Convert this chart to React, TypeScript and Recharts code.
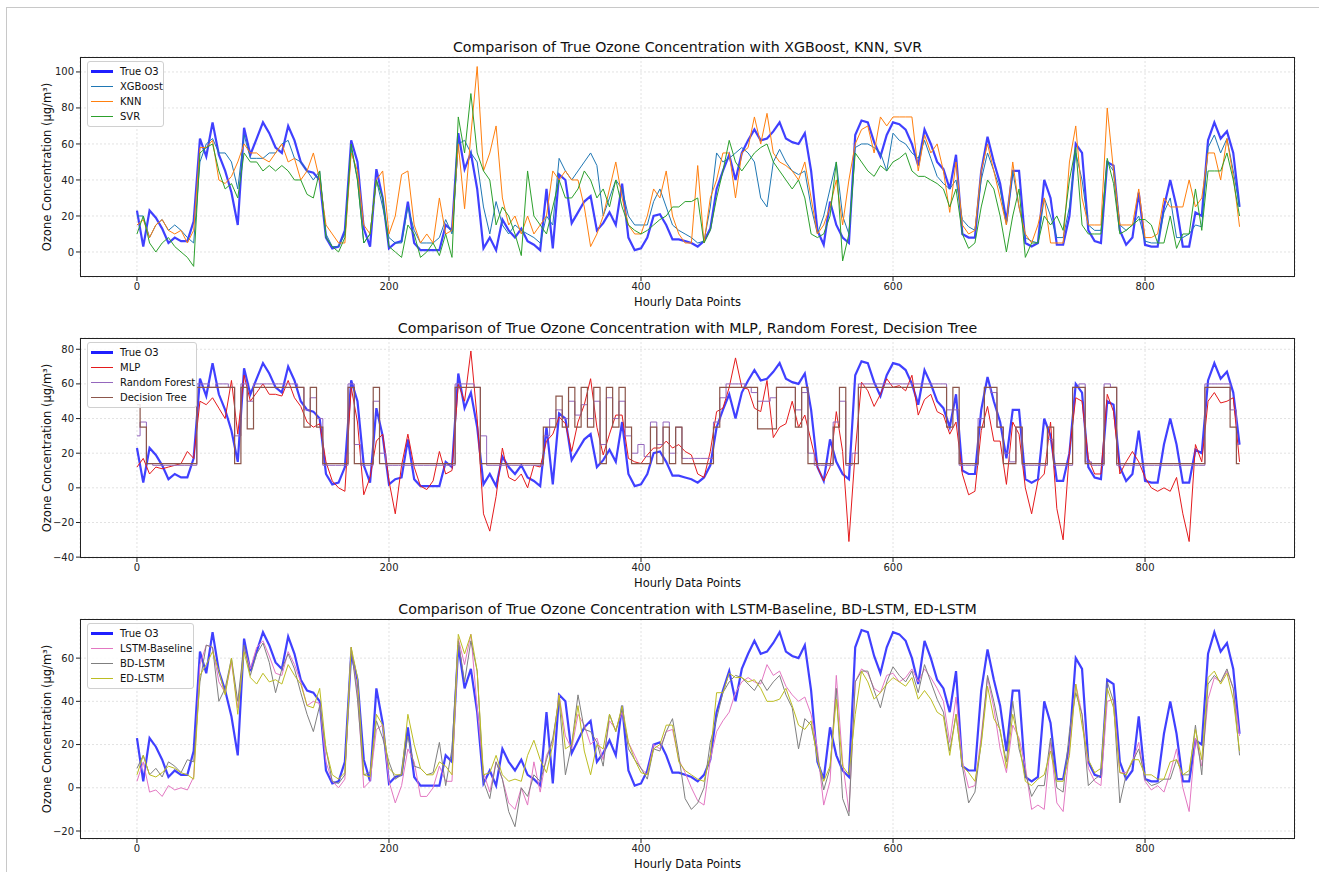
import React from 'react';
import { LineChart, Line, XAxis, YAxis, CartesianGrid } from 'recharts';

const FONT = '"DejaVu Sans", Verdana, sans-serif';

// hourly index, sampled every 5 hours
const hours = Array.from({ length: 176 }, (_, i) => i * 5);

const trueO3 = [
  23, 3, 23, 19, 13, 5, 8, 6, 6, 17,
  63, 53, 72, 54, 45, 33, 15, 69, 54, 63,
  72, 66, 58, 55, 70, 62, 50, 45, 44, 40,
  8, 2, 3, 12, 62, 50, 13, 3, 46, 30,
  2, 5, 6, 28, 5, 1, 1, 1, 1, 15,
  12, 66, 46, 55, 35, 2, 8, 1, 18, 12,
  8, 13, 6, 4, 1, 35, 2, 43, 40, 16,
  22, 28, 31, 12, 16, 22, 15, 38, 8, 1,
  2, 8, 20, 21, 15, 7, 7, 6, 5, 3,
  6, 13, 35, 45, 54, 40, 55, 62, 68, 62,
  63, 67, 72, 63, 61, 60, 66, 45, 12, 4,
  28, 15, 8, 5, 65, 73, 72, 61, 53, 65,
  72, 71, 68, 60, 48, 68, 60, 50, 46, 35,
  54, 10, 8, 8, 45, 64, 50, 38, 17, 45,
  45, 5, 3, 5, 40, 30, 4, 4, 20, 60,
  55, 12, 6, 5, 50, 48, 12, 4, 8, 33,
  4, 3, 3, 25, 40, 25, 3, 3, 22, 20,
  62, 72, 63, 67, 55, 25,
];

const xgboost = [
  20, 20, 8, 15, 18, 12, 15, 12, 8, 5,
  50, 60, 63, 55, 55, 50, 35, 65, 52, 52,
  52, 55, 55, 60, 62, 52, 50, 45, 40, 45,
  10, 3, 3, 10, 58, 40, 5, 10, 40, 25,
  8, 5, 5, 25, 12, 5, 5, 5, 8, 18,
  10, 60, 62, 55, 50, 25, 10, 28, 15, 10,
  15, 12, 10, 8, 5, 20, 15, 52, 45, 40,
  45, 50, 55, 48, 20, 30, 40, 35, 20, 15,
  15, 15, 28, 35, 25, 15, 12, 10, 8, 5,
  6, 25, 55, 50, 52, 55, 58, 55, 50, 30,
  25, 50, 57, 50, 45, 43, 45, 25, 10, 20,
  35, 50, 20, 10, 58, 60, 60, 58, 55, 45,
  66, 62, 60, 55, 52, 62, 52, 42, 38, 35,
  40, 18, 14, 12, 40, 55, 45, 35, 15, 45,
  25, 8, 6, 5, 30, 20, 8, 8, 25, 55,
  40, 15, 12, 12, 50, 45, 15, 12, 15, 20,
  6, 5, 5, 22, 30, 8, 8, 10, 15, 14,
  58, 65, 55, 63, 45, 25,
];

const knn = [
  15, 18, 8, 15, 18, 12, 10, 12, 5, 12,
  58, 58, 62, 40, 38, 42, 50, 60, 55, 55,
  52, 50, 55, 60, 50, 52, 40, 45, 55, 40,
  15, 10, 5, 5, 55, 45, 15, 10, 40, 45,
  10, 20, 43, 45, 15, 5, 10, 5, 30, 10,
  12, 60, 24, 65, 103, 45, 55, 70, 30, 15,
  20, 10, 20, 10, 15, 20, 45, 40, 45, 40,
  40, 25, 3, 10, 20, 35, 50, 30, 15, 10,
  10, 20, 35, 30, 45, 20, 10, 5, 5, 48,
  5, 30, 40, 55, 55, 30, 55, 58, 75, 60,
  77, 55, 50, 48, 45, 40, 50, 30, 10, 15,
  25, 40, 15, 40, 60, 68, 70, 55, 75, 70,
  75, 75, 75, 75, 45, 65, 55, 60, 45, 22,
  50, 15, 10, 12, 45, 60, 45, 30, 15, 50,
  25, 10, 5, 15, 30, 5, 5, 5, 50, 70,
  30, 15, 15, 15, 80, 45, 15, 15, 15, 35,
  8, 8, 10, 30, 25, 25, 25, 40, 25, 30,
  55, 55, 40, 63, 42, 14,
];

const svr = [
  10, 20, 5, 0, 5, 8, 3, 0, -3, -8,
  55, 58, 60, 45, 35, 38, 30, 55, 50, 50,
  45, 48, 45, 48, 45, 40, 40, 32, 30, 45,
  8, 3, 0, 8, 60, 40, 5, 10, 40, 30,
  3, 0, -3, 15, 10, -3, 0, 5, -2, 10,
  -3, 75, 55, 88, 55, 45, 40, 15, 25, 20,
  10, -2, 45, 20, 15, 10, 25, 40, 30, 30,
  35, 45, 40, 30, 35, 25, 40, 25, 15, 12,
  10, 12, 15, 18, 20, 25, 25, 28, 28, 30,
  5, 12, 30, 45, 62, 50, 45, 50, 55, 58,
  60, 50, 45, 40, 35, 40, 30, 10, 8, 10,
  20, 50, -5, 10, 55, 50, 45, 42, 48, 45,
  50, 52, 55, 45, 42, 42, 40, 38, 35, 25,
  35, 10, 2, 5, 25, 40, 35, 20, 0, 20,
  35, -3, 5, 5, 20, 15, 20, 12, 40, 58,
  15, 10, 10, 10, 52, 38, 10, 12, 15, 18,
  18, 15, 5, 5, 20, 2, 10, 10, 35, 12,
  45, 45, 45, 55, 40, 20,
];

const mlp = [
  12, 17, 8, 12, 11, 12, 13, 14, 21, 17,
  50, 48, 52, 46, 40, 62, 31, 65, 50, 55,
  60, 54, 54, 53, 62, 52, 47, 38, 35, 37,
  15, 4, 0, -2, 58, 38, -4, 6, 27, 31,
  4, -15, 13, 31, 12, 1, -1, 4, 21, 8,
  10, 60, 50, 79, 40, -15, -25, -5, 23, 6,
  4, 8, 0, 13, 12, 27, 31, 41, 37, 21,
  38, 48, 63, 35, 19, 31, 42, 42, 17, 15,
  14, 19, 23, 23, 27, 23, 25, 21, 19, 8,
  6, 21, 44, 46, 58, 75, 58, 57, 46, 44,
  62, 29, 35, 37, 50, 35, 42, 27, 12, 4,
  12, 44, 21, -31, 21, 61, 56, 47, 54, 63,
  58, 59, 56, 65, 42, 51, 54, 44, 42, 31,
  38, 8, -4, -2, 33, 47, 27, 27, 2, 38,
  31, 0, -15, 4, 8, 38, -12, -30, 21, 52,
  50, 17, 8, 8, 54, 44, 8, 15, 21, 15,
  6, 0, -2, 0, -2, 6, -15, -31, 25, 15,
  50, 55, 49, 50, 52, 15,
];

const randomForest = [
  30, 38, 14, 13, 13, 13, 13, 13, 13, 13,
  60, 60, 58, 60, 60, 58, 30, 60, 50, 60,
  60, 60, 60, 60, 60, 60, 58, 45, 52, 40,
  13, 13, 13, 13, 60, 25, 13, 13, 50, 20,
  13, 13, 13, 13, 13, 13, 13, 13, 13, 13,
  13, 60, 60, 60, 58, 30, 13, 13, 13, 13,
  13, 13, 13, 13, 13, 30, 40, 45, 40, 50,
  42, 48, 40, 50, 25, 52, 40, 50, 30, 20,
  25, 18, 38, 25, 38, 20, 35, 17, 17, 17,
  17, 17, 38, 52, 60, 60, 60, 58, 55, 50,
  50, 52, 58, 58, 58, 45, 55, 20, 13, 13,
  13, 38, 50, 13, 20, 60, 60, 60, 60, 60,
  60, 60, 60, 60, 60, 60, 60, 60, 60, 45,
  45, 13, 13, 13, 40, 58, 55, 35, 20, 15,
  35, 13, 13, 13, 13, 28, 13, 13, 13, 58,
  60, 15, 13, 13, 60, 58, 13, 13, 13, 13,
  13, 13, 13, 13, 13, 13, 13, 13, 13, 13,
  60, 60, 60, 60, 45, 25,
];

const decisionTree = [
  48, 35, 14, 14, 14, 14, 14, 14, 14, 14,
  58, 58, 58, 58, 58, 58, 14, 58, 34, 58,
  58, 58, 58, 58, 58, 58, 58, 35, 58, 35,
  14, 14, 14, 14, 58, 14, 14, 14, 58, 14,
  14, 14, 14, 14, 14, 14, 14, 14, 14, 14,
  14, 58, 58, 58, 58, 14, 14, 14, 14, 14,
  14, 14, 14, 14, 14, 35, 35, 53, 35, 58,
  35, 58, 35, 58, 14, 58, 35, 58, 35, 14,
  14, 14, 35, 14, 35, 14, 35, 14, 14, 14,
  14, 14, 35, 58, 58, 58, 58, 58, 58, 34,
  34, 34, 58, 58, 58, 35, 58, 14, 14, 14,
  14, 35, 58, 14, 14, 58, 58, 58, 58, 58,
  58, 58, 58, 58, 58, 58, 58, 58, 58, 35,
  58, 14, 14, 14, 35, 58, 58, 35, 14, 14,
  35, 14, 14, 14, 14, 35, 14, 14, 14, 58,
  58, 14, 14, 14, 58, 58, 14, 14, 14, 14,
  14, 14, 14, 14, 14, 14, 14, 14, 14, 14,
  58, 58, 58, 58, 35, 14,
];

const lstmBaseline = [
  3, 12, -2, -1, -4, 1, -1, 0, -1, 5,
  57, 66, 65, 49, 44, 58, 37, 65, 55, 65,
  68, 61, 53, 52, 63, 57, 49, 38, 40, 39,
  12, 3, 0, 4, 65, 44, 0, 3, 27, 29,
  3, -7, 1, 18, 12, -4, -4, 0, 10, 3,
  3, 69, 57, 71, 37, 7, -2, 12, 4, -7,
  -10, 0, -8, 12, -2, 15, 21, 43, 24, 18,
  34, 29, 20, 23, 13, 31, 27, 35, 21, 15,
  9, 6, 20, 18, 26, 27, 13, 7, 0, -6,
  -8, 13, 26, 31, 35, 44, 49, 51, 49, 48,
  57, 52, 54, 47, 43, 40, 42, 34, 18, -8,
  3, 52, 12, -11, 49, 55, 53, 46, 44, 52,
  53, 49, 51, 55, 49, 55, 51, 46, 40, 21,
  42, 12, 0, 1, 24, 51, 37, 18, 7, 29,
  23, 10, -10, -8, -10, 21, -7, -11, 18, 48,
  34, 9, 3, 1, 40, 41, 7, 7, 12, 21,
  3, -1, 1, -2, 7, 18, 0, -11, 23, 10,
  41, 51, 49, 54, 46, 24,
];

const bdLstm = [
  9, 15, 6, 9, 5, 12, 10, 7, 13, 12,
  49, 66, 65, 40, 46, 60, 40, 66, 52, 62,
  67, 58, 44, 55, 62, 55, 44, 34, 26, 38,
  18, 3, 2, 6, 65, 41, 6, 7, 31, 23,
  12, 4, 6, 24, 10, 9, 6, 7, 21, 1,
  18, 68, 49, 68, 54, 3, -5, 12, 4, -11,
  -18, 0, -4, 6, 3, 13, 23, 41, 6, 20,
  43, 27, 26, 21, 10, 34, 26, 37, 18, 13,
  9, 4, 18, 17, 26, 32, 15, -5, -10, -7,
  0, 21, 32, 44, 49, 52, 51, 48, 45, 50,
  45, 49, 52, 43, 37, 18, 32, 29, 15, -1,
  9, 46, -5, -13, 49, 54, 54, 45, 37, 49,
  56, 52, 49, 54, 44, 57, 49, 41, 35, 17,
  34, 10, -7, -2, 21, 52, 40, 26, 12, 40,
  18, 7, -4, 1, 1, 23, 0, -2, 26, 44,
  34, 1, 4, 6, 49, 40, -7, 6, 12, 18,
  4, 1, 2, 4, 4, 13, 6, 6, 29, 6,
  48, 52, 49, 55, 46, 15,
];

const edLstm = [
  6, 15, 6, 5, 7, 10, 9, 7, 6, 4,
  52, 57, 63, 54, 43, 60, 34, 63, 51, 48,
  53, 49, 50, 48, 57, 52, 48, 38, 37, 46,
  18, 6, 4, 7, 65, 51, 6, 5, 34, 29,
  9, 6, 6, 34, 20, 9, 6, 6, 12, 10,
  6, 71, 62, 71, 54, 6, 7, 15, 6, 3,
  4, 3, 15, 22, 13, 7, 20, 43, 18, 20,
  38, 17, 6, 20, 18, 34, 26, 38, 21, 13,
  7, 6, 18, 20, 29, 29, 12, 8, 6, 4,
  3, 15, 44, 44, 53, 51, 51, 49, 50, 46,
  40, 40, 41, 46, 38, 29, 27, 31, 13, 3,
  10, 41, 10, 6, 34, 54, 49, 41, 44, 48,
  51, 49, 47, 51, 41, 45, 41, 35, 33, 15,
  34, 10, 7, 3, 20, 47, 32, 27, 9, 34,
  21, 3, 1, 4, 6, 17, 3, 3, 15, 48,
  29, 13, 7, 9, 46, 37, 7, 6, 13, 13,
  6, 6, 4, 4, 12, 13, 6, 8, 27, 13,
  51, 54, 48, 53, 41, 17,
];

const rows = hours.map((hour, i) => ({
  hour,
  trueO3: trueO3[i],
  xgboost: xgboost[i],
  knn: knn[i],
  svr: svr[i],
  mlp: mlp[i],
  randomForest: randomForest[i],
  decisionTree: decisionTree[i],
  lstmBaseline: lstmBaseline[i],
  bdLstm: bdLstm[i],
  edLstm: edLstm[i],
}));

type Series = { key: string; name: string; color: string; width: number; step?: boolean };

const TRUE: Series = { key: 'trueO3', name: 'True O3', color: '#1f1fff', width: 2.2 };

const panels = [
  {
    top: 0,
    title: 'Comparison of True Ozone Concentration with XGBoost, KNN, SVR',
    domain: [-13.9, 108.3],
    ticks: [0, 20, 40, 60, 80, 100],
    legendWidth: 77,
    series: [
      TRUE,
      { key: 'xgboost', name: 'XGBoost', color: '#1f77b4', width: 1 },
      { key: 'knn', name: 'KNN', color: '#ff7f0e', width: 1 },
      { key: 'svr', name: 'SVR', color: '#2ca02c', width: 1 },
    ],
  },
  {
    top: 281,
    title: 'Comparison of True Ozone Concentration with MLP, Random Forest, Decision Tree',
    domain: [-40.5, 86.5],
    ticks: [-40, -20, 0, 20, 40, 60, 80],
    legendWidth: 110,
    series: [
      TRUE,
      { key: 'mlp', name: 'MLP', color: '#e41a1c', width: 1 },
      { key: 'randomForest', name: 'Random Forest', color: '#9467bd', width: 1, step: true },
      { key: 'decisionTree', name: 'Decision Tree', color: '#8c564b', width: 1.2, step: true },
    ],
  },
  {
    top: 562,
    title: 'Comparison of True Ozone Concentration with LSTM-Baseline, BD-LSTM, ED-LSTM',
    domain: [-23.7, 78.1],
    ticks: [-20, 0, 20, 40, 60],
    legendWidth: 107,
    series: [
      TRUE,
      { key: 'lstmBaseline', name: 'LSTM-Baseline', color: '#e377c2', width: 1 },
      { key: 'bdLstm', name: 'BD-LSTM', color: '#7f7f7f', width: 1 },
      { key: 'edLstm', name: 'ED-LSTM', color: '#bcbd22', width: 1 },
    ],
  },
];

const fmt = (v: number) => (v < 0 ? `\u2212${Math.abs(v)}` : `${v}`);

const tickStyle = { fill: '#222', fontSize: 10, fontFamily: FONT };

function Panel({ top, title, domain, ticks, series, legendWidth }: any) {
  return (
    <div style={{ position: 'absolute', left: 0, top, width: 1319, height: 310 }}>
      <LineChart width={1319} height={297} data={rows} margin={{ top: 57, right: 24, bottom: 0, left: 0 }}>
        <CartesianGrid stroke="#e2e2e2" strokeDasharray="2 2" />
        <XAxis
          dataKey="hour"
          type="number"
          domain={[-45.2, 919]}
          ticks={[0, 200, 400, 600, 800]}
          height={20}
          tickSize={4}
          axisLine={false}
          tickLine={{ stroke: '#222' }}
          tick={tickStyle}
        />
        <YAxis
          type="number"
          domain={domain}
          ticks={ticks}
          width={80}
          tickSize={4}
          axisLine={false}
          tickLine={{ stroke: '#222' }}
          tick={tickStyle}
          tickFormatter={fmt}
        />
        {series.map((s: Series) => (
          <Line
            key={s.key}
            type={s.step ? 'step' : 'linear'}
            dataKey={s.key}
            name={s.name}
            stroke={s.color}
            strokeWidth={s.width}
            strokeOpacity={s.key === 'trueO3' ? 0.85 : 1}
            dot={false}
            isAnimationActive={false}
          />
        ))}
      </LineChart>
      <div style={{ position: 'absolute', left: 80, top: 57, width: 1215, height: 220, border: '1px solid #222', boxSizing: 'border-box', pointerEvents: 'none' }} />
      <div style={{ position: 'absolute', left: 80, width: 1215, top: 38, textAlign: 'center', fontFamily: FONT, fontSize: 14.2, color: '#111', lineHeight: '18px' }}>{title}</div>
      <div style={{ position: 'absolute', left: 80, width: 1215, top: 294, textAlign: 'center', fontFamily: FONT, fontSize: 11.5, color: '#111', lineHeight: '16px' }}>Hourly Data Points</div>
      <div style={{ position: 'absolute', left: 47 - 110, top: 167 - 8, width: 220, textAlign: 'center', transform: 'rotate(-90deg)', fontFamily: FONT, fontSize: 11.5, color: '#111', lineHeight: '16px', whiteSpace: 'nowrap' }}>
        Ozone Concentration (µg/m³)
      </div>
      <div style={{ position: 'absolute', left: 87, top: 61, width: legendWidth, boxSizing: 'border-box', padding: '2px 3px', background: 'rgba(255,255,255,0.85)', border: '1px solid #d0d0d0', borderRadius: 3, fontFamily: FONT, fontSize: 10, color: '#111', whiteSpace: 'nowrap' }}>
        {series.map((s: Series) => (
          <div key={s.key} style={{ display: 'flex', alignItems: 'center', height: 15 }}>
            <div style={{ width: 22, flex: 'none', height: s.key === 'trueO3' ? 2.2 : 1.5, background: s.color, marginRight: 7 }} />
            <span>{s.name}</span>
          </div>
        ))}
      </div>
    </div>
  );
}

export default function App() {
  return (
    <div style={{ position: 'absolute', left: 0, top: 0, width: 1319, height: 872, background: '#fff', overflow: 'hidden' }}>
      <div style={{ position: 'absolute', left: 6, top: 7, width: 1400, height: 900, borderTop: '1px solid #c8c8c8', borderLeft: '1px solid #c8c8c8' }} />
      {panels.map((p) => (
        <Panel key={p.top} {...p} />
      ))}
    </div>
  );
}
